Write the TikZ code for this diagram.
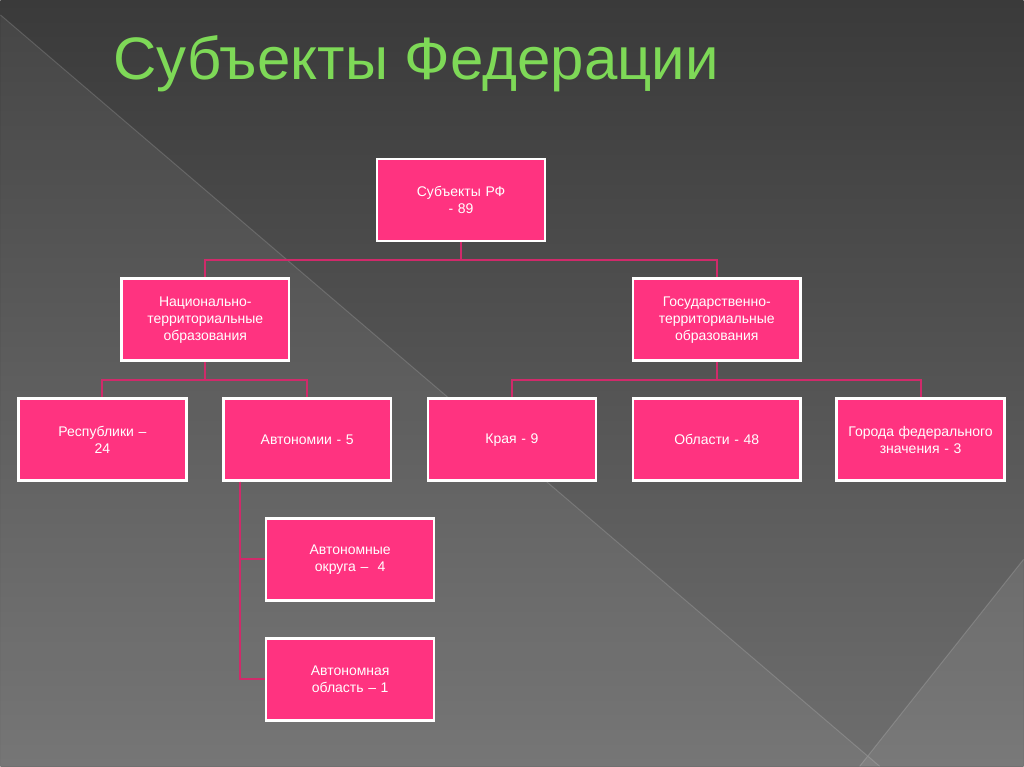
\documentclass[tikz,border=0pt]{standalone}
\usepackage{fontspec}
\setmainfont{Liberation Sans}
\begin{document}
\begin{tikzpicture}[x=1pt,y=-1pt,
  bx/.style={draw=white,line width=2.5pt,fill={rgb,255:red,255;green,51;blue,128},minimum width=168pt,minimum height=82pt,text width=150pt,align=center,text=white,font=\fontsize{14}{17}\selectfont,inner sep=0pt},
  ln/.style={draw={rgb,255:red,208;green,42;blue,106},line width=2pt}]
\definecolor{bgtop}{RGB}{58,58,58}
\definecolor{bgbot}{RGB}{110,110,110}
\definecolor{ttl}{RGB}{126,217,87}
\shade[top color=bgtop,bottom color=bgbot] (0,0) rectangle (1024,767);
\fill[white,opacity=0.06] (0,15) -- (880,767) -- (0,767) -- cycle;
\fill[white,opacity=0.08] (1024,560) -- (860,767) -- (1024,767) -- cycle;
\draw[white,opacity=0.15,line width=1pt] (0,15) -- (880,767) (1024,560) -- (860,767);
\useasboundingbox (0,0) rectangle (1024,767);
\node[anchor=base west,text=ttl,font=\fontsize{60}{70}\selectfont,inner sep=0pt] (t) at (113,80) {Субъекты Федерации};
\node[bx] (r) at (461,200) {Субъекты РФ\\- 89};
\node[bx] (n) at (205,320) {Национально-территориальные образования};
\node[bx] (g) at (717,320) {Государственно-территориальные образования};
\node[bx] (re) at (102,440) {Республики –\\24};
\node[bx] (a) at (307,440) {Автономии - 5};
\node[bx] (k) at (512,440) {Края - 9};
\node[bx] (o) at (717,440) {Области - 48};
\node[bx] (gf) at (921,440) {Города федерального значения - 3};
\node[bx] (ao) at (350,560) {Автономные\\округа –\ \ 4};
\node[bx] (ob) at (350,680) {Автономная\\область – 1};
\coordinate (av) at (240,482);
\begin{scope}[on background layer/.style={}]
\draw[ln] (r.south) -- ++(0,18) -| (n.north);
\draw[ln] (r.south) ++(0,18) -| (g.north);
\draw[ln] (n.south) -- ++(0,18) -| (re.north);
\draw[ln] (n.south) ++(0,18) -| (a.north);
\draw[ln] (g.south) -- ++(0,18) -| (k.north);
\draw[ln] (g.south) ++(0,18) -| (gf.north);
\draw[ln] (av) |- (ao.west);
\draw[ln] (av) |- (ob.west);
\end{scope}
\end{tikzpicture}
\end{document}
